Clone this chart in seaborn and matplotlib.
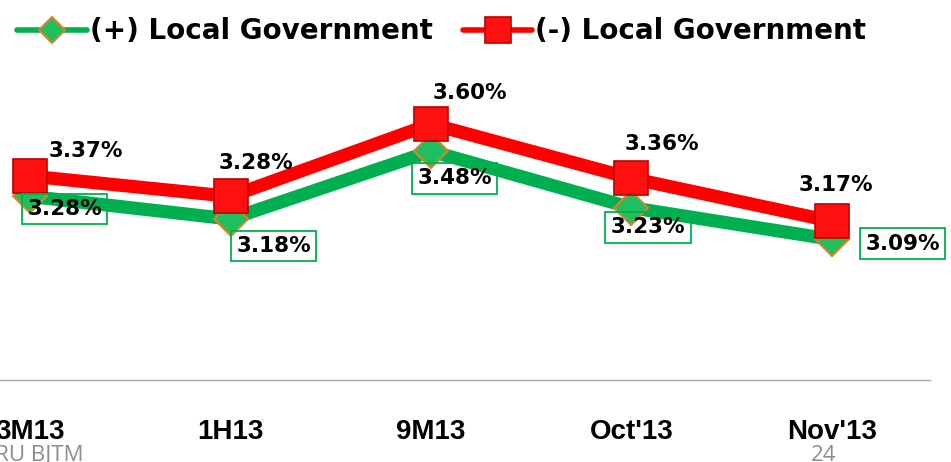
import matplotlib
matplotlib.use("Agg")
import matplotlib.pyplot as plt
import seaborn as sns
import pandas as pd

# ---------------------------------------------------------------
# data
# ---------------------------------------------------------------
periods = ["3M13", "1H13", "9M13", "Oct'13", "Nov'13"]
plus_local_gov = [3.28, 3.18, 3.48, 3.23, 3.09]
minus_local_gov = [3.37, 3.28, 3.60, 3.36, 3.17]

df = pd.DataFrame({
    "Period": list(range(len(periods))) * 2,
    "Rate": plus_local_gov + minus_local_gov,
    "Series": ["(+) Local Government"] * 5 + ["(-) Local Government"] * 5,
})

sns.set_style("white")
plt.rcParams["font.family"] = ["DejaVu Sans"]

GREEN = "#00B050"
RED = "#FF0000"

fig = plt.figure(figsize=(9.51, 4.62), dpi=100)
ax = fig.add_axes([0.0, 0.177, 0.978, 0.693])

sns.lineplot(data=df[df["Series"] == "(+) Local Government"], x="Period", y="Rate",
             color=GREEN, lw=9.5, marker="D", markersize=17,
             markerfacecolor="#1FBF5F", markeredgecolor="#D9822B", markeredgewidth=1.5,
             ax=ax, label="(+) Local Government")
sns.lineplot(data=df[df["Series"] == "(-) Local Government"], x="Period", y="Rate",
             color=RED, lw=9.5, marker="s", markersize=25,
             markerfacecolor="#FF1010", markeredgecolor="#C00000", markeredgewidth=1.2,
             ax=ax, label="(-) Local Government")

ax.set_xlim(-0.15, 4.49)
ax.set_ylim(2.467, 3.883)

# data labels (offsets in points)
red_off = [(40, 18), (18, 24), (28, 22), (22, 25), (3, 26)]
green_off = [(25, -9), (31, -19.5), (17, -19.5), (12, -14), (51, -3)]
for i, v in enumerate(minus_local_gov):
    ax.annotate(f"{v:.2f}%", (i, v), xytext=red_off[i], textcoords="offset points",
                ha="center", va="center", fontsize=15.5, fontweight="bold", color="black",
                zorder=6)
for i, v in enumerate(plus_local_gov):
    ax.annotate(f"{v:.2f}%", (i, v), xytext=green_off[i], textcoords="offset points",
                ha="center", va="center", fontsize=15.5, fontweight="bold", color="black",
                bbox=dict(boxstyle="square,pad=0.25", fc="none", ec=GREEN, lw=1.3),
                zorder=6)

ax.set_xticks(range(len(periods)))
ax.set_xticklabels(periods, fontsize=20, fontweight="bold", color="black",
                   family=["Liberation Sans Narrow", "Liberation Sans", "DejaVu Sans"])
ax.tick_params(axis="x", length=0, pad=28)
ax.set_yticks([])
ax.set_xlabel("")
ax.set_ylabel("")
for s in ["top", "right", "left"]:
    ax.spines[s].set_visible(False)
ax.spines["bottom"].set_color("#A6A6A6")
ax.spines["bottom"].set_linewidth(1)

leg = ax.legend(loc="center", bbox_to_anchor=(0.475, 1.09), ncol=2, frameon=False,
                handlelength=2.5, columnspacing=1.1, handletextpad=0.1, markerscale=0.75,
                prop=dict(weight="bold", size=20))
for t in leg.get_texts():
    t.set_color("black")
for h in leg.legend_handles:
    h.set_linewidth(4)

# slide footer remnants
fig.text(-0.012, 0.036, "IRU BJTM", fontsize=16, color="#8C8C8C", va="top",
         family=["Liberation Sans Narrow", "Open Sans"])
fig.text(0.853, 0.036, "24", fontsize=16, color="#8C8C8C", va="top",
         family=["Liberation Sans Narrow", "Open Sans"])

fig.savefig("out.png", dpi=100)
